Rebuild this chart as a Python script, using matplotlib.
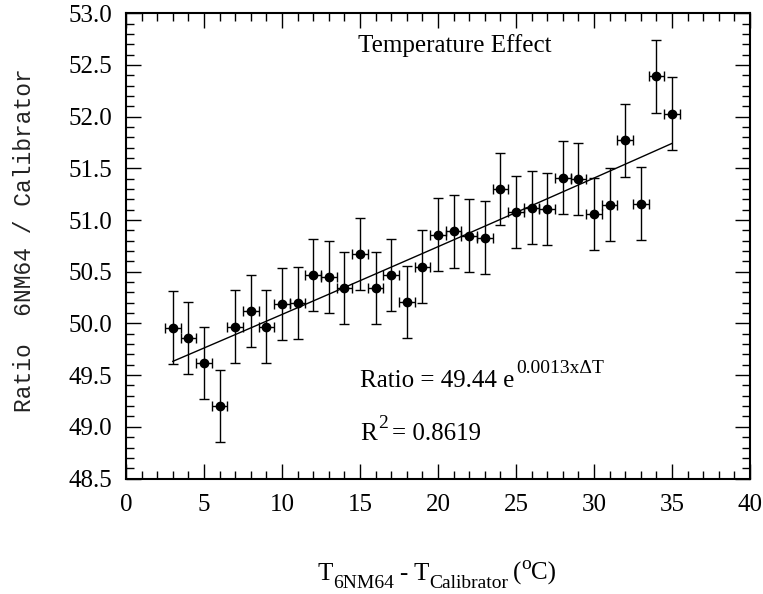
"""
Temperature effect on the 6NM64 / calibrator count ratio.
Points with error bars plus the exponential fit quoted on the chart.
"""

import numpy as np
import matplotlib
matplotlib.use("Agg")
import matplotlib.pyplot as plt
from matplotlib.ticker import MultipleLocator, FormatStrFormatter
from matplotlib.transforms import IdentityTransform

# ─── Data ────────────────────────────────────────────────────────────────────
delta_t = [3, 4, 5, 6, 7, 8, 9, 10, 11, 12, 13, 14, 15, 16, 17, 18, 19,
           20, 21, 22, 23, 24, 25, 26, 27, 28, 29, 30, 31, 32, 33, 34, 35]
ratio = [49.96, 49.86, 49.62, 49.20, 49.97, 50.12, 49.97, 50.19, 50.20,
         50.47, 50.45, 50.34, 50.67, 50.34, 50.47, 50.21, 50.55,
         50.86, 50.89, 50.85, 50.83, 51.30, 51.08, 51.12, 51.11, 51.41,
         51.40, 51.06, 51.15, 51.77, 51.16, 52.39, 52.03]
ratio_err = [0.35] * len(delta_t)
dt_err = [0.5] * len(delta_t)

# exponential fit shown on the chart: Ratio = A * exp(B * dT)
FIT_A = 49.44
FIT_B = 0.0013
FIT_RANGE = (3, 35)

MAIN_FS = 18
SMALL_FS = 14

plt.rcParams["font.family"] = ["Liberation Serif", "DejaVu Serif"]


def draw_pieces(fig, x0, y0, pieces, ha="left"):
    """Chain text pieces (text, size, rise_px, gap_px) along a baseline, in pixels."""
    renderer = fig.canvas.get_renderer()
    ident = IdentityTransform()
    texts, widths = [], []
    for s, size, rise, gap in pieces:
        t = fig.text(0, 0, s, fontsize=size, transform=ident,
                     ha="left", va="baseline")
        texts.append(t)
        widths.append(t.get_window_extent(renderer).width)
    total = sum(widths) + sum(p[3] for p in pieces)
    x = x0 - total / 2 if ha == "center" else x0
    for t, w, (s, size, rise, gap) in zip(texts, widths, pieces):
        x += gap
        t.set_position((x, y0 + rise))
        x += w


def main():
    fig = plt.figure(figsize=(7.63, 5.94), dpi=100)
    ax = fig.add_axes([0.1651, 0.1944, 0.8178, 0.7832])

    ax.errorbar(delta_t, ratio, yerr=ratio_err, xerr=dt_err,
                fmt="o", color="black", ms=6, ecolor="black",
                elinewidth=1.0, capsize=3.5, capthick=1.0)

    fit_x = np.linspace(FIT_RANGE[0], FIT_RANGE[1], 100)
    ax.plot(fit_x, FIT_A * np.exp(FIT_B * fit_x), color="black", lw=1.0)

    # ── axes formatting ──────────────────────────────────────────────────
    ax.set_xlim(0, 40)
    ax.set_ylim(48.5, 53.0)
    ax.xaxis.set_major_locator(MultipleLocator(5))
    ax.xaxis.set_minor_locator(MultipleLocator(1))
    ax.yaxis.set_major_locator(MultipleLocator(0.5))
    ax.yaxis.set_minor_locator(MultipleLocator(0.1))
    ax.yaxis.set_major_formatter(FormatStrFormatter("%.1f"))

    ax.tick_params(which="both", direction="in", top=True, right=True,
                   width=1.0, labelsize=MAIN_FS)
    ax.tick_params(which="major", length=11)
    ax.tick_params(which="minor", length=6)
    ax.tick_params(axis="x", pad=11)
    ax.tick_params(axis="y", pad=10)
    for sp in ax.spines.values():
        sp.set_linewidth(1.5)

    # ── annotations ──────────────────────────────────────────────────────
    ax.text(21.1, 52.63, "Temperature Effect", fontsize=MAIN_FS,
            ha="center", va="baseline")

    rx, ry = ax.transData.transform((15.0, 49.39))
    draw_pieces(fig, rx, ry, [("Ratio = 49.44 e", MAIN_FS, 0, 0),
                              ("0.0013x\u0394T", SMALL_FS, 14, 2)])
    rx, ry = ax.transData.transform((15.0, 48.87))
    draw_pieces(fig, rx, ry, [("R", MAIN_FS, 0, 0),
                              ("2", SMALL_FS, 12, 1),
                              ("= 0.8619", MAIN_FS, 0, 4)])

    # x label with sub/superscripts
    draw_pieces(fig, 437, 594 - 580, [("T", MAIN_FS, 0, 0),
                                      ("6NM64", SMALL_FS, -8, 0),
                                      ("- T", MAIN_FS, 0, 6),
                                      ("Calibrator", SMALL_FS, -8, 0),
                                      ("(", MAIN_FS, 0, 5),
                                      ("o", SMALL_FS, 11, 0),
                                      ("C)", MAIN_FS, 0, 0)], ha="center")

    fig.text(25 / 763, 1 - 240 / 594, "Ratio  6NM64 / Calibrator",
             family=["Liberation Mono", "DejaVu Sans Mono"], fontsize=16.5,
             color="#222222", rotation=90, ha="center", va="center")

    fig.savefig("out.png", dpi=100)
    plt.close(fig)


if __name__ == "__main__":
    main()
